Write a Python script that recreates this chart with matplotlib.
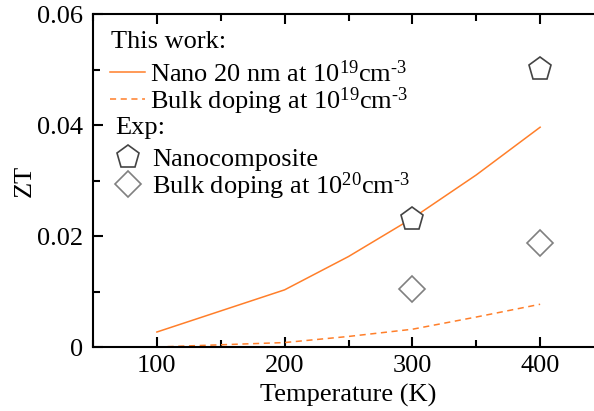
import matplotlib
matplotlib.use("Agg")
from matplotlib import pyplot as plt
from matplotlib.lines import Line2D
from matplotlib.ticker import MultipleLocator, FuncFormatter

plt.rcParams["font.family"] = ["Liberation Serif", "DejaVu Serif"]
plt.rcParams["mathtext.fontset"] = "custom"
plt.rcParams["mathtext.rm"] = "Liberation Serif"
plt.rcParams["mathtext.it"] = "Liberation Serif:italic"
plt.rcParams["mathtext.default"] = "regular"

# model curves (this work)
temps = [100, 150, 200, 250, 300, 350, 400]
zt_nano = [0.0027, 0.0065, 0.0103, 0.0163, 0.0232, 0.0310, 0.0396]
zt_bulk = [0.0000, 0.0004, 0.0008, 0.0019, 0.0032, 0.0054, 0.0077]

# experiment
exp_temps = [300, 400]
exp_nanocomp = [0.0231, 0.0501]
exp_bulk = [0.0104, 0.0187]

orange = "#ff7f2a"
fs = 19

fig = plt.figure(figsize=(5.94, 4.11), dpi=100)
AX_L, AX_T, AX_W, AX_H = 93, 14, 511, 333
ax = fig.add_axes([AX_L / 594, 1 - (AX_T + AX_H) / 411, AX_W / 594, AX_H / 411])

def axpos(px, py):
    # pixel position in the picture -> axes fraction
    return (px - AX_L) / AX_W, 1 - (py - AX_T) / AX_H

ax.plot(temps, zt_nano, "-", color=orange, lw=1.1)
ax.plot(temps, zt_bulk, "--", color=orange, lw=1.1, dashes=(4, 3))
ax.plot(exp_temps, exp_nanocomp, "p", ms=17, mfc="white", mec="#444444", mew=1.2)
ax.plot(exp_temps, exp_bulk, "D", ms=13, mfc="none", mec="#808080", mew=1.2)

ax.set_xlim(50, 450)
ax.set_ylim(0, 0.06)
ax.xaxis.set_major_locator(MultipleLocator(100))
ax.xaxis.set_minor_locator(MultipleLocator(50))
ax.yaxis.set_major_locator(MultipleLocator(0.02))
ax.yaxis.set_minor_locator(MultipleLocator(0.01))
ax.yaxis.set_major_formatter(FuncFormatter(lambda v, p: "0" if v == 0 else f"{v:.2f}"))
ax.tick_params(which="both", direction="in", top=True, right=True, width=1.5,
               labelsize=fs)
ax.tick_params(which="major", length=7)
ax.tick_params(which="minor", length=5)
ax.tick_params(axis="y", pad=7)
ax.tick_params(axis="x", pad=6)
for s in ax.spines.values():
    s.set_linewidth(1.5)

ax.set_xlabel("Temperature (K)", fontsize=fs, labelpad=5)
ax.set_ylabel("ZT", fontsize=fs, labelpad=1)

ax.text(*axpos(111, 42), "This work:", fontsize=fs, transform=ax.transAxes, va="center")
h1 = [Line2D([], [], color=orange, lw=1.1),
      Line2D([], [], color=orange, lw=1.1, ls="--", dashes=(4, 3))]
l1 = [r"Nano 20 nm at 10$^{19}$cm$^{\text{-3}}$",
      r"Bulk doping at 10$^{19}$cm$^{\text{-3}}$"]
leg1 = ax.legend(h1, l1, loc="upper left", bbox_to_anchor=axpos(110, 60),
                 frameon=False, fontsize=fs, handlelength=1.33, handletextpad=0.2,
                 labelspacing=-0.05, borderpad=0, borderaxespad=0)
ax.add_artist(leg1)

ax.text(*axpos(115, 128), "Exp:", fontsize=fs, transform=ax.transAxes, va="center")
h2 = [Line2D([], [], ls="none", marker="p", ms=17, mfc="white", mec="#444444", mew=1.2),
      Line2D([], [], ls="none", marker="D", ms=13, mfc="none", mec="#808080", mew=1.2)]
l2 = ["Nanocomposite", r"Bulk doping at 10$^{20}$cm$^{\text{-3}}$"]
ax.legend(h2, l2, loc="upper left", bbox_to_anchor=axpos(115, 148),
          frameon=False, fontsize=fs, handlelength=1.0, handletextpad=0.4,
          labelspacing=-0.05, borderpad=0, borderaxespad=0)

plt.savefig("out.png", dpi=100)
